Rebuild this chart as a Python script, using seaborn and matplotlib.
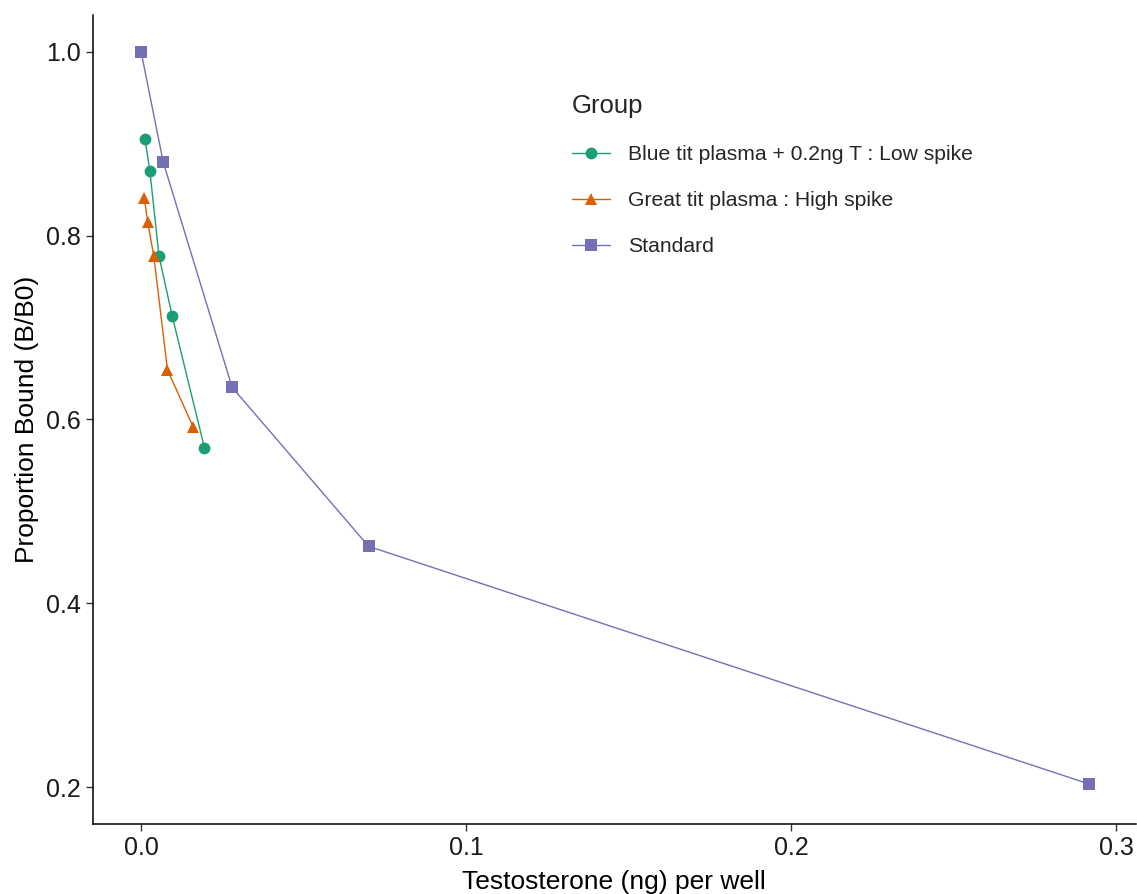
import matplotlib
matplotlib.use("Agg")
import matplotlib.pyplot as plt
import seaborn as sns
import pandas as pd

# Data
groups = ["Blue tit plasma + 0.2ng T : Low spike",
          "Great tit plasma : High spike",
          "Standard"]
blue_x = [0.0012, 0.0027, 0.0055, 0.0096, 0.0195]
blue_y = [0.905, 0.870, 0.778, 0.712, 0.569]
great_x = [0.0010, 0.0020, 0.0039, 0.0081, 0.0160]
great_y = [0.841, 0.815, 0.778, 0.654, 0.592]
std_x = [0.0, 0.0068, 0.028, 0.070, 0.2917]
std_y = [1.0, 0.880, 0.635, 0.462, 0.2035]
x_ticks = [0.0, 0.1, 0.2, 0.3]
y_ticks = [0.2, 0.4, 0.6, 0.8, 1.0]
colors = ["#1B9E77", "#D95F02", "#7570B3"]
markers = ["o", "^", "s"]

df = pd.concat([
    pd.DataFrame({"x": blue_x, "y": blue_y, "Group": groups[0]}),
    pd.DataFrame({"x": great_x, "y": great_y, "Group": groups[1]}),
    pd.DataFrame({"x": std_x, "y": std_y, "Group": groups[2]}),
], ignore_index=True)

sns.set_theme(style="ticks")
plt.rcParams["font.family"] = ["Liberation Sans", "DejaVu Sans"]

fig = plt.figure(figsize=(11.37, 8.94), dpi=100)
ax = fig.add_axes([0.0818, 0.0783, 0.917, 0.905])

sns.lineplot(data=df, x="x", y="y", hue="Group", style="Group",
             hue_order=groups, style_order=groups,
             palette=dict(zip(groups, colors)),
             markers=dict(zip(groups, markers)),
             dashes=False, sort=False, estimator=None,
             markersize=8.5, markeredgewidth=0, linewidth=1.0, ax=ax)

ax.set_xlim(-0.0148, 0.306)
ax.set_ylim(0.16, 1.04)
ax.set_xticks(x_ticks)
ax.set_xticklabels(["0.0", "0.1", "0.2", "0.3"])
ax.set_yticks(y_ticks)
ax.set_yticklabels(["0.2", "0.4", "0.6", "0.8", "1.0"])
ax.tick_params(axis="both", labelsize=18, length=5, width=1, color="#333333",
               labelcolor="#1a1a1a", direction="out", pad=4)
ax.set_xlabel("Testosterone (ng) per well", fontsize=19, color="black", labelpad=7)
ax.set_ylabel("Proportion Bound (B/B0)", fontsize=19, color="black", labelpad=5)
sns.despine(ax=ax)
for s in ["left", "bottom"]:
    ax.spines[s].set_color("black")
    ax.spines[s].set_linewidth(1.1)

leg = ax.legend(title="Group", loc="upper left",
                bbox_to_anchor=(0.490, 0.911), bbox_transform=fig.transFigure,
                frameon=False, fontsize=15.2, title_fontsize=18.5,
                handlelength=1.8, labelspacing=1.28, borderpad=0.2,
                handletextpad=0.85)
leg._legend_box.align = "left"

fig.savefig("out.png", dpi=100)
